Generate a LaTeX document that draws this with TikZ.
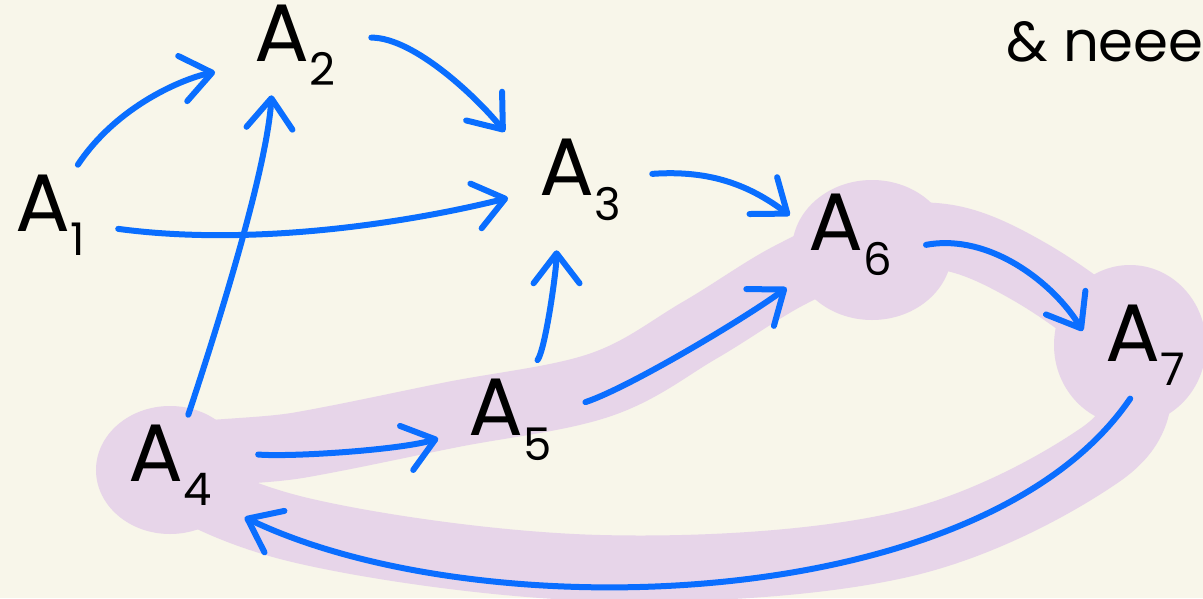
\documentclass[tikz,border=0pt]{standalone}
\usepackage{fontspec}
\setmainfont{Poppins}
\usetikzlibrary{arrows.meta}
\definecolor{paper}{RGB}{248,246,234}
\definecolor{marker}{RGB}{231,213,233}
\definecolor{ink}{RGB}{10,110,255}
\newcommand{\Alab}[1]{A\raisebox{-0.3em}{\fontsize{32}{32}\selectfont #1}}

\begin{document}
\begin{tikzpicture}[x=0.25mm, y=-0.25mm,
    state/.style={minimum width=30mm, minimum height=25mm, inner sep=0pt, font=\fontsize{58}{60}\selectfont},
    arr/.style={ink, line width=1.5mm, line cap=round, -{Straight Barb[length=7.5mm,width=11.5mm,round]}},
    hl/.style={marker, line width=16.5mm, line cap=round, line join=round}]
  \fill[paper] (0,0) rectangle (1203,598);
  \useasboundingbox (0,0) rectangle (1203,598);

  \fill[marker] (170,470) ellipse [x radius=18.5mm, y radius=16mm];
  \fill[marker] (872,250) ellipse [x radius=20mm, y radius=17.5mm];
  \fill[marker] (1130,345) ellipse [x radius=19mm, y radius=20mm];
  \draw[hl] plot[smooth cycle, tension=0.6] coordinates {(165,465) (300,445) (450,415) (600,385) (700,330) (790,275) (870,242) (950,238) (1030,272) (1110,330) (1140,380) (1100,455) (900,545) (600,568) (300,530)};

  \node[state] (a1) at (50,215) {\Alab{1}};
  \node[state] (a2) at (295,45) {\Alab{2}};
  \node[state] (a3) at (580,180) {\Alab{3}};
  \node[state] (a4) at (170,465) {\Alab{4}};
  \node[state] (a5) at (510,420) {\Alab{5}};
  \node[state] (a6) at (850,235) {\Alab{6}};
  \node[state] (a7) at (1145,345) {\Alab{7}};
  \node[font=\fontsize{40}{40}\selectfont] (note) at (1105,42) {\& neee};

  \draw[arr, shorten >=5mm] (a1.61) .. controls +(40,-60) and +(-50,10) .. (a2.201);
  \draw[arr, shorten <=4mm, shorten >=6mm] (a2.7) .. controls +(60,0) and +(-40,-50) .. (a3.154);
  \draw[arr, shorten <=2mm, shorten >=3mm] (a1.-12) .. controls +(150,20) and +(-100,25) .. (a3.194);
  \draw[arr] (a4.70) .. controls +(20,-60) and +(-5,80) .. (a2.245);
  \draw[arr, shorten <=7mm, shorten >=3mm] (a4.12) .. controls +(60,5) and +(-50,15) .. (a5.194);
  \draw[arr, shorten <=3mm, shorten >=5mm] (a5.68) .. controls +(15,-20) and +(0,40) .. (a3.245);
  \draw[arr, shorten <=4mm, shorten >=1mm] (a5.12) .. controls +(60,-20) and +(-40,30) .. (a6.south west);
  \draw[arr, shorten <=3mm] (a3.5) .. controls +(70,-5) and +(-40,-30) .. (a6.162);
  \draw[arr, shorten <=4mm, shorten >=1mm] (a6.-12) .. controls +(80,-15) and +(-30,-50) .. (a7.170);
  \draw[arr, shorten <=1mm, shorten >=4mm] (a7.-104) .. controls +(-150,220) and +(250,120) .. (a4.-37);
\end{tikzpicture}
\end{document}
